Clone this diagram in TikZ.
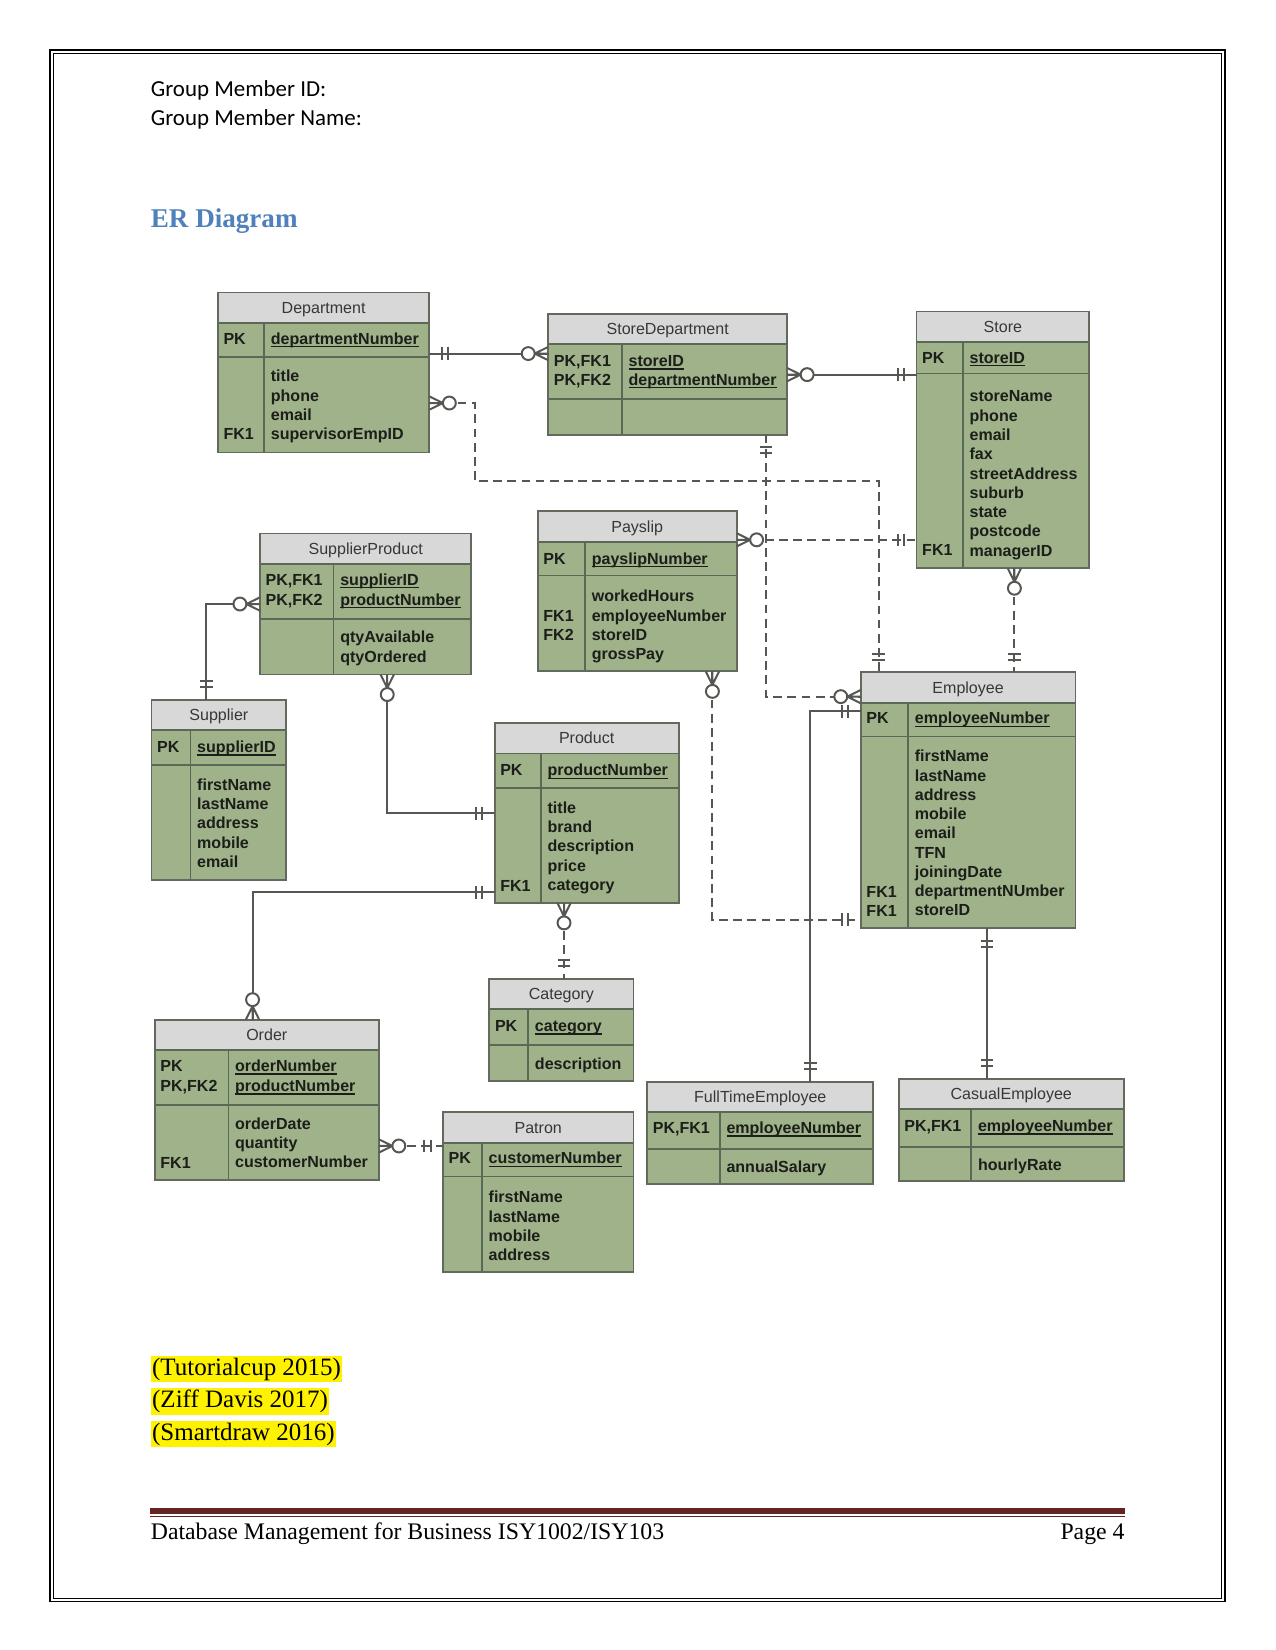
\documentclass[tikz,border=0pt]{standalone}
\usepackage{fontspec}
\setmainfont{Liberation Serif}
\newfontfamily\carlito{Carlito}
\newfontfamily\arialf{Liberation Sans}
\definecolor{entgreen}{RGB}{160,178,138}
\definecolor{hdrcol}{RGB}{216,216,216}
\definecolor{rowcol}{RGB}{92,104,86}
\definecolor{boxcol}{RGB}{98,106,94}
\definecolor{linecol}{RGB}{85,88,82}
\definecolor{titlecol}{RGB}{55,55,55}
\definecolor{attrcol}{RGB}{28,30,26}
\definecolor{headblue}{RGB}{79,129,189}
\definecolor{footred}{RGB}{99,36,35}
\newcommand\pkul[1]{\setbox0\hbox{#1}\rlap{\vrule height -1.0pt depth 1.6pt width \wd0}\box0}
\newcommand\entity[8]{%
  \node[entbox, minimum width={(#4-#2)*0.505pt}, minimum height={(#5-#3)*0.505pt}] (#1) at ({(#2+#4)/2},{(#3+#5)/2}) {};
  \fill[hdrcol] (#2,#3) rectangle (#4,{#3+29});
  \draw[rowline] (#2,{#3+29}) -- (#4,{#3+29});
  \draw[rowline] (#2,#6) -- (#4,#6);
  \draw[rowline] (#7,{#3+29}) -- (#7,#5);
  \draw[boxline] (#2,#3) rectangle (#4,#5);
  \node[etitle] (#1-t) at ({(#2+#4)/2},{#3+20}) {#8};
}
\newcommand\etext[4]{\node[attr] (#1) at (#2,{#3+5}) {#4};}
\newcommand\attrs[4]{\foreach \ai [count=\n from 0] in {#4} {\node[attr] (#1-a\n) at (#2,{#3+5+\n*18.3}) {\ai};}}
\tikzset{
  onemark/.pic={\draw[markline] (6pt,-3pt) -- (6pt,3pt) (9pt,-3pt) -- (9pt,3pt);},
  zmany/.pic={\draw[markline] (0pt,3.2pt) -- (6.5pt,0pt) -- (0pt,-3.2pt) (0pt,0pt) -- (6.5pt,0pt);
              \draw[markline, fill=white] (9.6pt,0pt) circle (3.1pt);}
}
\begin{document}
\begin{tikzpicture}[x=0.505pt,y=-0.505pt,
  entbox/.style={rectangle, fill=entgreen, inner sep=0pt, outer sep=0pt},
  rowline/.style={draw=rowcol, line width=0.8pt},
  boxline/.style={draw=boxcol, line width=0.9pt},
  etitle/.style={anchor=base, inner sep=0pt, font=\arialf\fontsize{7.7}{9}\selectfont, text=titlecol},
  attr/.style={anchor=base west, inner sep=0pt, font=\arialf\bfseries\fontsize{7.7}{9}\selectfont, text=attrcol},
  rel/.style={draw=linecol, line width=0.95pt},
  reldash/.style={rel, dash pattern=on 4.2pt off 2.6pt},
  markline/.style={draw=linecol, line width=0.95pt, solid},
  cite/.style={anchor=base west, fill=yellow, inner xsep=0.6pt, inner ysep=0pt, text height=9.5pt, text depth=3.3pt, font=\fontsize{12}{14}\selectfont},
  plain/.style={anchor=base west, inner sep=0pt}
]
\useasboundingbox (0,0) rectangle (1212,1568);
\fill[white] (0,0) rectangle (1212,1568);
% page border
\draw[line width=0.6pt] (47.5,47.5) rectangle (1164,1522);
\draw[line width=0.6pt] (50.5,50.5) rectangle (1161,1519);
% header text
\node[plain, font=\carlito\fontsize{11}{13}\selectfont] (gid) at (143,92) {Group Member ID:};
\node[plain, font=\carlito\fontsize{11}{13}\selectfont] (gname) at (143,119) {Group Member Name:};
\node[plain, font=\bfseries\fontsize{13}{15}\selectfont, text=headblue] (erh) at (143,216) {ER Diagram};

% entities
\entity{dept}{207}{278}{408}{430}{339}{251}{Department}
\etext{dept-k1}{212}{322}{PK}
\etext{dept-p}{257}{322}{\pkul{departmentNumber}}
\etext{dept-k2}{212}{413}{FK1}
\attrs{dept}{257}{358}{title,phone,email,supervisorEmpID}

\entity{sd}{521}{298}{748}{413}{379}{591}{StoreDepartment}
\etext{sd-k1}{526}{343}{PK,FK1}
\etext{sd-k2}{526}{361}{PK,FK2}
\etext{sd-p1}{597}{343}{\pkul{storeID}}
\etext{sd-p2}{597}{361}{\pkul{departmentNumber}}

\entity{store}{871}{296}{1035}{540}{355}{915}{Store}
\etext{store-k1}{876}{340}{PK}
\etext{store-p}{921}{340}{\pkul{storeID}}
\etext{store-k2}{876}{523}{FK1}
\attrs{store}{921}{377}{storeName,phone,email,fax,streetAddress,suburb,state,postcode,managerID}

\entity{sp}{247}{507}{448}{641}{588}{317}{SupplierProduct}
\etext{sp-k1}{252}{551}{PK,FK1}
\etext{sp-k2}{252}{570}{PK,FK2}
\etext{sp-p1}{323}{551}{\pkul{supplierID}}
\etext{sp-p2}{323}{570}{\pkul{productNumber}}
\attrs{sp}{323}{606}{qtyAvailable,qtyOrdered}

\entity{pay}{511}{486}{700}{638}{547}{556}{Payslip}
\etext{pay-k1}{516}{531}{PK}
\etext{pay-p}{562}{531}{\pkul{payslipNumber}}
\etext{pay-k2}{516}{586}{FK1}
\etext{pay-k3}{516}{604}{FK2}
\attrs{pay}{562}{567}{workedHours,employeeNumber,storeID,grossPay}

\entity{sup}{144}{665}{272}{836}{727}{181}{Supplier}
\etext{sup-k1}{149}{710}{PK}
\etext{sup-p}{187}{710}{\pkul{supplierID}}
\attrs{sup}{187}{746}{firstName,lastName,address,mobile,email}

\entity{prod}{470}{687}{645}{858}{749}{514}{Product}
\etext{prod-k1}{475}{732}{PK}
\etext{prod-p}{520}{732}{\pkul{productNumber}}
\etext{prod-k2}{475}{842}{FK1}
\attrs{prod}{520}{768}{title,brand,description,price,category}

\entity{emp}{818}{639}{1022}{882}{700}{863}{Employee}
\etext{emp-k1}{823}{683}{PK}
\etext{emp-p}{869}{683}{\pkul{employeeNumber}}
\etext{emp-k2}{823}{848}{FK1}
\etext{emp-k3}{823}{866}{FK1}
\attrs{emp}{869}{719}{firstName,lastName,address,mobile,email,TFN,joiningDate,departmentNUmber,storeID}

\entity{cat}{465}{930}{602}{1027}{993}{502}{Category}
\etext{cat-k1}{470}{975}{PK}
\etext{cat-p}{508}{975}{\pkul{category}}
\attrs{cat}{508}{1011}{description}

\entity{ord}{147}{969}{360}{1121}{1050}{217}{Order}
\etext{ord-k1}{152}{1013}{PK}
\etext{ord-k2}{152}{1032}{PK,FK2}
\etext{ord-p1}{223}{1013}{\pkul{orderNumber}}
\etext{ord-p2}{223}{1032}{\pkul{productNumber}}
\etext{ord-k3}{152}{1105}{FK1}
\attrs{ord}{223}{1068}{orderDate,quantity,customerNumber}

\entity{pat}{421}{1057}{602}{1209}{1118}{458}{Patron}
\etext{pat-k1}{426}{1101}{PK}
\etext{pat-p}{464}{1101}{\pkul{customerNumber}}
\attrs{pat}{464}{1138}{firstName,lastName,mobile,address}

\entity{ft}{615}{1028}{830}{1125}{1092}{684}{FullTimeEmployee}
\etext{ft-k1}{620}{1072}{PK,FK1}
\etext{ft-p}{690}{1072}{\pkul{employeeNumber}}
\attrs{ft}{690}{1109}{annualSalary}

\entity{ce}{854}{1025}{1068}{1122}{1090}{923}{CasualEmployee}
\etext{ce-k1}{859}{1070}{PK,FK1}
\etext{ce-p}{929}{1070}{\pkul{employeeNumber}}
\attrs{ce}{929}{1107}{hourlyRate}

% relationships
\draw[rel] (dept.east |- 0,336) -- (sd.west |- 0,336);
\pic[rotate=0] at (dept.east |- 0,336) {onemark};
\pic[rotate=180] at (sd.west |- 0,336) {zmany};

\draw[rel] (sd.east |- 0,356) -- (store.west |- 0,356);
\pic[rotate=0] at (sd.east |- 0,356) {zmany};
\pic[rotate=180] at (store.west |- 0,356) {onemark};

\draw[reldash] (dept.east |- 0,383) -- (451,383) -- (451,457) -- (835,457) -- (emp.north -| 835,0);
\pic[rotate=0] at (dept.east |- 0,383) {zmany};
\pic[rotate=90] at (emp.north -| 835,0) {onemark};

\draw[reldash] (sd.south -| 728,0) -- (728,662) -- (emp.west |- 0,662);
\pic[rotate=-90] at (sd.south -| 728,0) {onemark};
\pic[rotate=180] at (emp.west |- 0,662) {zmany};

\draw[reldash] (pay.east |- 0,513) -- (store.west |- 0,513);
\pic[rotate=0] at (pay.east |- 0,513) {zmany};
\pic[rotate=180] at (store.west |- 0,513) {onemark};

\draw[reldash] (store.south -| 964,0) -- (emp.north -| 964,0);
\pic[rotate=-90] at (store.south -| 964,0) {zmany};
\pic[rotate=90] at (emp.north -| 964,0) {onemark};

\draw[reldash] (pay.south -| 677,0) -- (677,874) -- (emp.west |- 0,874);
\pic[rotate=-90] at (pay.south -| 677,0) {zmany};
\pic[rotate=180] at (emp.west |- 0,874) {onemark};

\draw[rel] (emp.west |- 0,676) -- (770,676) -- (ft.north -| 770,0);
\pic[rotate=180] at (emp.west |- 0,676) {onemark};
\pic[rotate=90] at (ft.north -| 770,0) {onemark};

\draw[rel] (emp.south -| 938,0) -- (ce.north -| 938,0);
\pic[rotate=-90] at (emp.south -| 938,0) {onemark};
\pic[rotate=90] at (ce.north -| 938,0) {onemark};

\draw[rel] (sp.west |- 0,574) -- (196,574) -- (sup.north -| 196,0);
\pic[rotate=180] at (sp.west |- 0,574) {zmany};
\pic[rotate=90] at (sup.north -| 196,0) {onemark};

\draw[rel] (sp.south -| 368,0) -- (368,773) -- (prod.west |- 0,773);
\pic[rotate=-90] at (sp.south -| 368,0) {zmany};
\pic[rotate=180] at (prod.west |- 0,773) {onemark};

\draw[rel] (prod.west |- 0,848) -- (240,848) -- (ord.north -| 240,0);
\pic[rotate=180] at (prod.west |- 0,848) {onemark};
\pic[rotate=90] at (ord.north -| 240,0) {zmany};

\draw[reldash] (prod.south -| 536,0) -- (cat.north -| 536,0);
\pic[rotate=-90] at (prod.south -| 536,0) {zmany};
\pic[rotate=90] at (cat.north -| 536,0) {onemark};

\draw[reldash] (ord.east |- 0,1089) -- (pat.west |- 0,1089);
\pic[rotate=0] at (ord.east |- 0,1089) {zmany};
\pic[rotate=180] at (pat.west |- 0,1089) {onemark};

% citations
\node[cite] (c1) at (143,1307) {(Tutorialcup 2015)};
\node[cite] (c2) at (143,1338) {(Ziff Davis 2017)};
\node[cite] (c3) at (143,1369) {(Smartdraw 2016)};

% footer
\fill[footred] (143,1433.5) rectangle (1069,1438.5);
\fill[footred] (143,1440.5) rectangle (1069,1441.7);
\node[plain, font=\fontsize{11.4}{13}\selectfont] (foot) at (143,1463) {Database Management for Business ISY1002/ISY103};
\node[anchor=base east, inner sep=0pt, font=\fontsize{11.4}{13}\selectfont] (page) at (1069,1463) {Page 4};
\end{tikzpicture}
\end{document}
